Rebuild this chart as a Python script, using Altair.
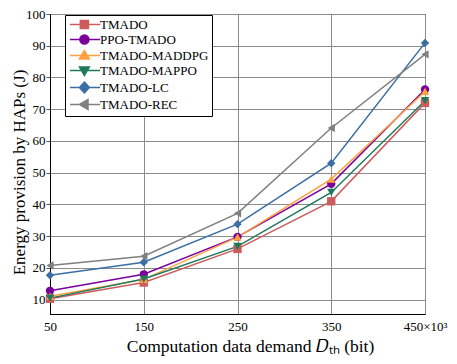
import altair as alt
import pandas as pd

# ---- data ----
demand = [50, 150, 250, 350, 450]
series_names = ["TMADO", "PPO-TMADO", "TMADO-MADDPG", "TMADO-MAPPO", "TMADO-LC", "TMADO-REC"]
tmado = [10.3, 15.4, 26.0, 41.0, 72.0]
ppo_tmado = [12.8, 18.0, 29.8, 46.5, 76.2]
tmado_maddpg = [11.1, 16.4, 29.7, 48.0, 75.6]
tmado_mappo = [10.5, 16.5, 26.8, 43.8, 72.7]
tmado_lc = [17.7, 21.8, 33.8, 53.0, 90.9]
tmado_rec = [20.8, 23.7, 37.2, 64.1, 87.3]
x_ticks = [50, 150, 250, 350, 450]
y_ticks = [10, 20, 30, 40, 50, 60, 70, 80, 90, 100]

# ---- styles ----
colors = ["#cd5c5c", "#7a009c", "#ffa040", "#1f7a5c", "#3a6ea5", "#808080"]
point_shapes = ["square", "circle", "triangle-up", "triangle-down", "diamond", "triangle-left"]
line_seg = "M-1,0H5.7"
legend_markers = [
    "M1.3,-0.9H3.1V0.9H1.3Z",
    "M3.2,0A1,1 0 1 1 1.2,0A1,1 0 1 1 3.2,0Z",
    "M2.2,-1.1L3.3,0.8H1.1Z",
    "M2.2,1.1L3.3,-0.8H1.1Z",
    "M2.2,-1.2L3.3,0L2.2,1.2L1.1,0Z",
    "M1.1,0L3.0,-1.1V1.1Z",
]
legend_paths = [line_seg + m for m in legend_markers]

values = [tmado, ppo_tmado, tmado_maddpg, tmado_mappo, tmado_lc, tmado_rec]
rows = []
for i, (name, vals) in enumerate(zip(series_names, values)):
    for d, v in zip(demand, vals):
        rows.append({"series": name, "order": i, "demand": d, "energy": v})
df = pd.DataFrame(rows)

FONT = "Liberation Serif"
W, H = 375, 300

x = alt.X(
    "demand:Q",
    scale=alt.Scale(domain=[50, 450], nice=False),
    axis=alt.Axis(
        values=x_ticks,
        title="Computation data demand 𝐷ₜₕ (bit)",
        titleFontSize=17.5,
        titleX=200,
        labelExpr="datum.value == 450 ? '450×10³' : datum.label",
        labelOverlap=False,
        labelBound=False,
        labelFlush=False,
        ticks=False,
        labelPadding=6,
        titlePadding=4,
    ),
)
y = alt.Y(
    "energy:Q",
    scale=alt.Scale(domain=[5.5, 100], nice=False, zero=False),
    axis=alt.Axis(
        values=y_ticks,
        title="Energy provision by HAPs (J)",
        titleFontSize=17,
        titleY=158,
        tickSize=4,
        labelPadding=1,
        titlePadding=-2.5,
    ),
)

color_scale = alt.Scale(domain=series_names, range=colors)

base = alt.Chart(df)

lines = base.mark_line(strokeWidth=1.5).encode(
    x=x, y=y,
    color=alt.Color("series:N", scale=color_scale, legend=None),
    detail="series:N",
)

points = base.mark_point(filled=True, size=70, opacity=1).encode(
    x=x, y=y,
    color=alt.Color("series:N", scale=color_scale, legend=None),
    shape=alt.Shape("series:N", scale=alt.Scale(domain=series_names, range=point_shapes), legend=None),
    order="order:Q",
)

leg = dict(
    title=None,
    orient="none",
    legendX=15,
    legendY=1,
    symbolSize=81,
    symbolStrokeWidth=1.5,
    symbolOpacity=1,
    labelFont=FONT,
    labelFontSize=13,
    labelColor="black",
    labelOffset=19,
    labelLimit=300,
    rowPadding=0,
    padding=3,
    strokeColor="black",
    fillColor="white",
)

legend_layer = base.mark_point(filled=True, opacity=0, size=81).encode(
    x=x, y=y,
    fill=alt.Fill("series:N", scale=alt.Scale(domain=series_names, range=colors), legend=alt.Legend(**leg)),
    stroke=alt.Stroke("series:N", scale=alt.Scale(domain=series_names, range=colors), legend=alt.Legend(**leg)),
    shape=alt.Shape("series:N", scale=alt.Scale(domain=series_names, range=legend_paths), legend=alt.Legend(**leg)),
)

chart = (
    alt.layer(lines, points, legend_layer)
    .resolve_scale(shape="independent", fill="independent", stroke="independent")
    .properties(
        width=W,
        height=H,
        autosize=alt.AutoSizeParams(type="none"),
        padding={"left": 42, "top": 6, "right": 24, "bottom": 42},
    )
    .configure_view(stroke="black", strokeWidth=1)
    .configure_axis(
        labelFont=FONT,
        labelFontSize=13,
        labelColor="black",
        titleFont=FONT,
        titleFontWeight="normal",
        titleColor="black",
        domainColor="black",
        tickColor="#555555",
        gridColor="#8c8c8c",
        gridWidth=1,
        gridOpacity=1,
    )
)

chart.save("out.html", embed_options={"renderer": "svg", "actions": False})
